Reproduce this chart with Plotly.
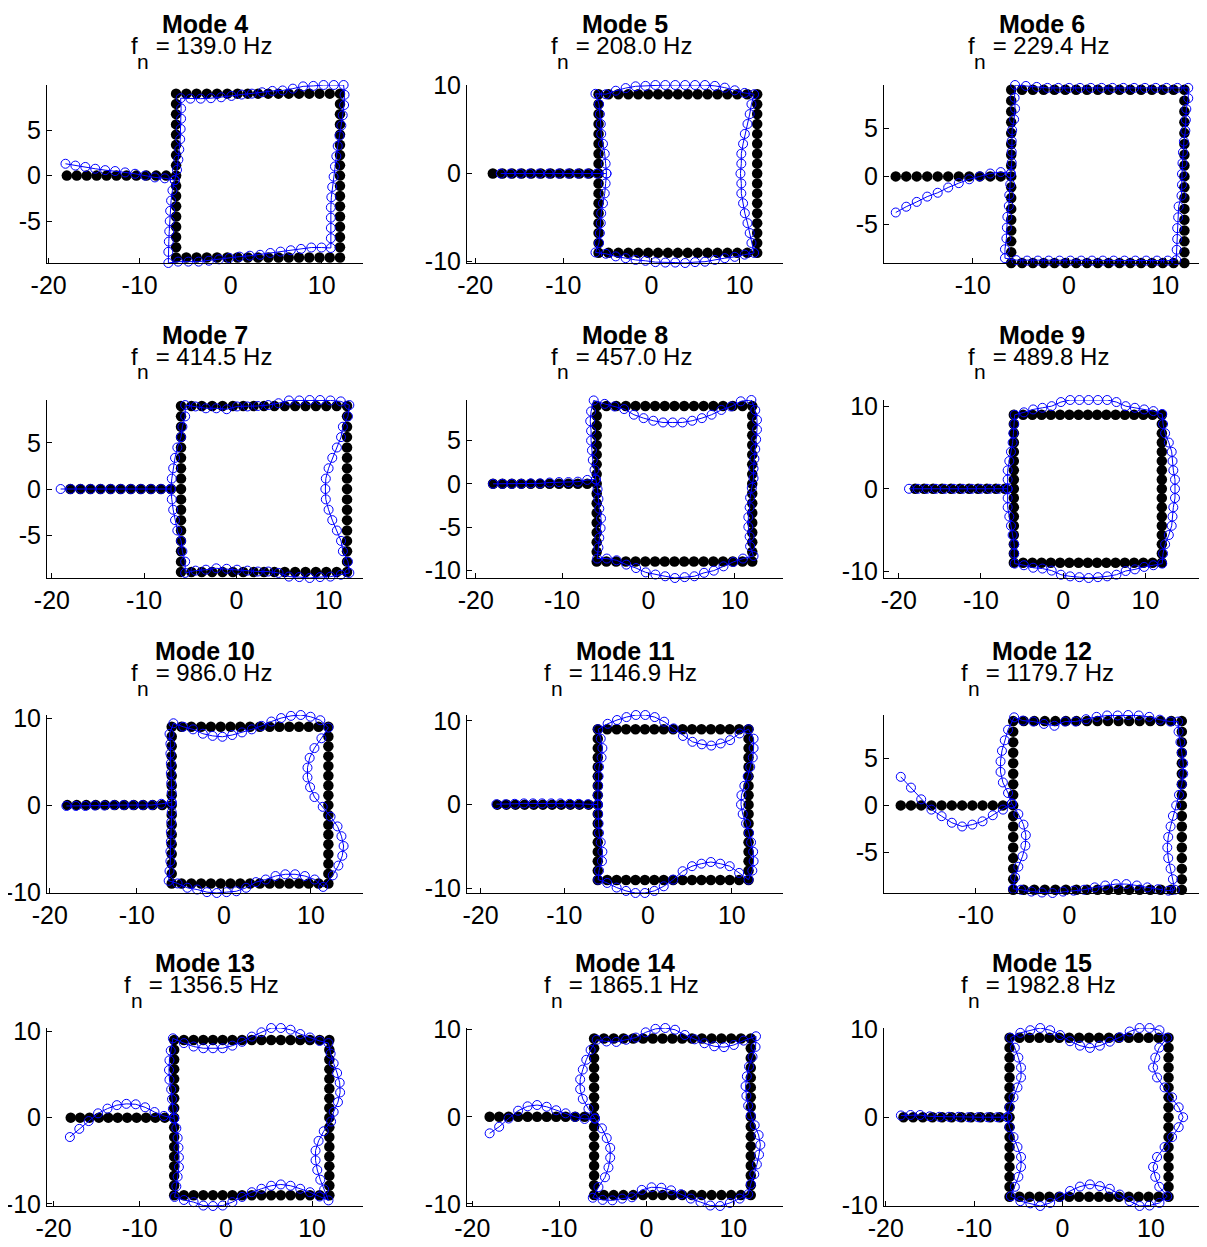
import plotly.graph_objects as go

# ---------------- data ----------------
mode_numbers = [4, 5, 6, 7, 8, 9, 10, 11, 12, 13, 14, 15]
freqs_hz = [139.0, 208.0, 229.4, 414.5, 457.0, 489.8, 986.0, 1146.9, 1179.7, 1356.5, 1865.1, 1982.8]

# undeformed node coordinates
beam_x = [-18.0, -16.91, -15.82, -14.73, -13.64, -12.55, -11.45, -10.36, -9.27, -8.18, -7.09]
side_y = [-9.0, -7.875, -6.75, -5.625, -4.5, -3.375, -2.25, -1.125, 0.0,
          1.125, 2.25, 3.375, 4.5, 5.625, 6.75, 7.875, 9.0]
span_x = [-6.0, -4.875, -3.75, -2.625, -1.5, -0.375, 0.75, 1.875, 3.0,
          4.125, 5.25, 6.375, 7.5, 8.625, 9.75, 10.875, 12.0]

# tick labels
x_ticks = [-20, -10, 0, 10]
x_ticklabels = ["-20", "-10", "0", "10"]
y_ticks_fine = [-10, -5, 0, 5, 10]
y_ticklabels_fine = ["-10", "-5", "0", "5", "10"]
y_ticks_coarse = [-10, 0, 10]
y_ticklabels_coarse = ["-10", "0", "10"]
y_tick_step = [5, 10, 5, 5, 5, 10, 10, 10, 5, 10, 10, 10]

# mode shapes (displacements)
# beam: transverse (y) at beam nodes; left/right: x-displacement for y=-9..9;
# top/bottom: y-displacement for x=-6..12; axial: [beam dx, left dy, top dx, right dy, bottom dx]
m4_beam = [1.3, 1.1, 0.95, 0.75, 0.6, 0.5, 0.35, 0.2, 0.0, -0.2, -0.3]
m4_left = [-0.85, -0.85, -0.8, -0.75, -0.7, -0.65, -0.55, -0.4, -0.15, 0.1, 0.25, 0.35, 0.45, 0.5, 0.55, 0.55, 0.5]
m4_top = [-0.5, -0.55, -0.55, -0.5, -0.4, -0.25, -0.1, 0.0, 0.15, 0.3, 0.35, 0.55, 0.8, 0.85, 0.95, 0.95, 0.95]
m4_right = [-1.0, -1.0, -1.0, -1.0, -1.0, -0.95, -0.85, -0.7, -0.55, -0.4, -0.25, -0.05, 0.15, 0.3, 0.45, 0.5, 0.4]
m4_bottom = [-0.6, -0.45, -0.45, -0.45, -0.35, -0.2, -0.05, 0.1, 0.2, 0.3, 0.5, 0.65, 0.8, 0.95, 1.1, 1.1, 1.05]
m4_axial = [-0.15, -0.5, 0.45, 1.0, -0.9]

m5_beam = [0.0, 0.0, 0.0, 0.0, 0.0, 0.0, 0.0, 0.0, 0.0, 0.0, 0.0]
m5_left = [-0.35, 0.05, 0.15, 0.25, 0.3, 0.5, 0.7, 0.8, 0.9, 0.8, 0.7, 0.5, 0.3, 0.25, 0.15, 0.05, -0.35]
m5_top = [0.05, 0.0, 0.4, 0.7, 0.9, 0.95, 1.05, 1.05, 1.05, 1.05, 1.05, 1.05, 0.95, 0.75, 0.45, 0.15, 0.0]
m5_right = [-0.35, -0.65, -0.85, -1.1, -1.4, -1.6, -1.8, -1.8, -1.9, -1.8, -1.8, -1.6, -1.4, -1.1, -0.85, -0.65, -0.35]
m5_bottom = [0.05, -0.1, -0.4, -0.6, -0.8, -0.9, -1.05, -1.1, -1.1, -1.15, -1.05, -1.0, -0.8, -0.6, -0.45, -0.2, 0.0]
m5_axial = [0.9, 0.0, -0.3, 0.0, -0.3]

m6_beam = [-3.75, -3.15, -2.65, -2.1, -1.7, -1.15, -0.7, -0.3, 0.0, 0.3, 0.45]
m6_left = [-0.65, -0.65, -0.5, -0.45, -0.4, -0.25, -0.2, -0.1, -0.05, 0.05, 0.05, 0.05, 0.1, 0.3, 0.4, 0.35, 0.4]
m6_top = [0.5, 0.4, 0.3, 0.2, 0.2, 0.2, 0.2, 0.2, 0.2, 0.2, 0.2, 0.2, 0.2, 0.2, 0.2, 0.2, 0.2]
m6_right = [-0.85, -0.8, -0.75, -0.75, -0.65, -0.6, -0.3, -0.25, -0.25, -0.2, -0.15, -0.05, 0.1, 0.15, 0.2, 0.4, 0.4]
m6_bottom = [0.5, 0.3, 0.25, 0.25, 0.25, 0.25, 0.25, 0.25, 0.25, 0.25, 0.25, 0.25, 0.25, 0.25, 0.25, 0.25, 0.3]
m6_axial = [0.0, 0.3, 0.4, 0.25, -0.6]

m7_beam = [0.0, 0.0, 0.0, 0.0, 0.0, 0.0, 0.0, 0.0, 0.0, 0.0, 0.0]
m7_left = [0.45, 0.45, 0.15, 0.0, -0.4, -0.65, -0.85, -1.0, -1.1, -1.0, -0.85, -0.65, -0.4, 0.0, 0.15, 0.45, 0.45]
m7_top = [0.1, -0.05, -0.25, -0.25, -0.35, -0.05, -0.05, 0.0, 0.1, 0.3, 0.6, 0.6, 0.65, 0.65, 0.6, 0.5, 0.1]
m7_right = [0.25, 0.1, -0.45, -0.65, -1.1, -1.6, -2.0, -2.3, -2.35, -2.3, -2.0, -1.6, -1.1, -0.65, -0.45, 0.1, 0.25]
m7_bottom = [-0.1, 0.15, 0.25, 0.4, 0.35, 0.25, 0.15, 0.05, 0.05, -0.1, -0.5, -0.55, -0.65, -0.55, -0.5, -0.3, -0.1]
m7_axial = [-1.05, 0.0, 0.45, 0.0, 0.45]

m8_beam = [0.0, 0.0, 0.0, 0.0, 0.05, 0.05, 0.15, 0.2, 0.2, 0.25, 0.45]
m8_left = [0.05, 0.2, 0.3, 0.45, 0.5, 0.3, 0.2, 0.1, -0.1, -0.25, -0.45, -0.55, -0.65, -0.65, -0.75, -0.65, -0.35]
m8_top = [0.65, 0.25, -0.05, -0.35, -1.0, -1.4, -1.7, -1.9, -1.9, -1.9, -1.7, -1.4, -1.0, -0.45, -0.05, 0.55, 0.7]
m8_right = [0.15, -0.25, -0.3, -0.45, -0.45, -0.3, -0.25, -0.05, 0.15, 0.15, 0.25, 0.35, 0.45, 0.55, 0.55, 0.35, -0.1]
m8_bottom = [0.35, 0.35, 0.15, -0.35, -0.75, -1.25, -1.5, -1.7, -1.9, -1.8, -1.7, -1.3, -1.05, -0.55, -0.05, 0.35, 0.65]
m8_axial = [0.0, 0.5, -0.2, 0.65, 0.05]

m9_beam = [0.0, 0.0, 0.0, 0.0, 0.0, 0.0, 0.0, 0.0, 0.0, 0.0, 0.0]
m9_left = [0.1, 0.05, 0.05, -0.15, -0.35, -0.55, -0.75, -0.75, -0.75, -0.75, -0.75, -0.55, -0.35, -0.15, -0.05, 0.05, 0.1]
m9_top = [0.0, 0.3, 0.65, 0.85, 1.05, 1.55, 1.8, 1.8, 1.8, 1.8, 1.8, 1.55, 1.05, 0.85, 0.65, 0.45, 0.1]
m9_right = [0.05, 0.15, 0.4, 0.85, 1.2, 1.3, 1.4, 1.6, 1.6, 1.6, 1.4, 1.3, 1.2, 0.85, 0.4, 0.15, 0.05]
m9_bottom = [-0.1, -0.3, -0.6, -0.7, -0.95, -1.45, -1.65, -1.75, -1.85, -1.75, -1.65, -1.45, -1.0, -0.8, -0.5, -0.3, -0.1]
m9_axial = [-0.75, 0.0, 0.1, 0.0, 0.1]

m10_beam = [-0.1, -0.1, -0.1, -0.05, -0.05, 0.0, 0.0, 0.0, 0.0, 0.0, 0.15]
m10_left = [-0.35, -0.25, -0.15, -0.15, -0.1, -0.1, -0.05, 0.0, 0.0, 0.0, -0.05, -0.1, -0.1, -0.15, -0.15, -0.25, 0.2]
m10_top = [0.4, 0.0, -0.3, -0.8, -1.05, -1.15, -0.95, -0.65, -0.3, 0.1, 0.6, 1.0, 1.25, 1.35, 1.15, 0.75, -0.1]
m10_right = [-0.6, 0.5, 1.15, 1.6, 1.75, 1.5, 1.05, 0.25, -0.65, -1.6, -2.1, -2.4, -2.4, -2.15, -1.6, -0.8, 0.0]
m10_bottom = [0.3, 0.0, -0.5, -0.7, -1.0, -1.1, -1.0, -0.9, -0.5, 0.15, 0.45, 0.85, 1.05, 1.05, 0.85, 0.45, -0.4]
m10_axial = [-0.1, 0.3, 0.2, -0.2, -0.45]

m11_beam = [0.05, 0.05, 0.1, 0.15, 0.15, 0.15, 0.15, 0.15, 0.1, 0.1, 0.05]
m11_left = [0.05, 0.15, 0.5, 0.55, 0.35, 0.15, 0.1, 0.05, 0.0, 0.0, 0.05, 0.1, 0.15, 0.45, 0.55, 0.35, 0.05]
m11_top = [0.0, 0.65, 1.1, 1.45, 1.7, 1.7, 1.45, 0.9, 0.1, -0.8, -1.5, -1.8, -1.95, -1.7, -1.3, -0.5, 0.0]
m11_right = [0.0, 0.45, 0.6, 0.55, 0.3, 0.05, -0.3, -0.7, -0.9, -0.85, -0.5, -0.1, 0.2, 0.5, 0.6, 0.6, 0.0]
m11_bottom = [0.05, -0.35, -0.9, -1.3, -1.55, -1.55, -1.3, -0.75, 0.05, 1.05, 1.65, 1.95, 2.15, 1.95, 1.65, 0.85, 0.05]
m11_axial = [-0.1, 0.0, 0.05, 0.0, 0.0]

m12_beam = [3.05, 1.9, 0.65, -0.45, -1.15, -1.85, -2.25, -2.05, -1.7, -1.05, -0.45]
m12_left = [0.0, 0.2, 0.55, 1.0, 1.3, 1.35, 1.1, 0.55, -0.15, -0.55, -1.1, -1.35, -1.35, -1.2, -0.9, -0.55, 0.1]
m12_top = [0.4, 0.05, -0.05, -0.3, -0.5, -0.05, -0.05, 0.2, 0.45, 0.6, 0.6, 0.65, 0.6, 0.45, 0.15, -0.05, -0.05]
m12_right = [-0.75, -0.95, -1.2, -1.45, -1.55, -1.45, -1.2, -0.95, -0.6, -0.3, 0.0, 0.15, 0.15, 0.0, -0.15, -0.35, -0.4]
m12_bottom = [0.1, 0.0, -0.2, -0.3, -0.35, -0.2, -0.1, 0.0, 0.25, 0.45, 0.6, 0.6, 0.45, 0.25, 0.05, -0.1, 0.0]
m12_axial = [0.0, 0.2, -0.1, 0.0, -0.3]

m13_beam = [-2.25, -1.3, -0.4, 0.5, 1.05, 1.45, 1.6, 1.55, 1.2, 0.65, 0.2]
m13_left = [0.05, 0.25, 0.4, 0.55, 0.55, 0.5, 0.4, 0.25, 0.0, -0.15, -0.25, -0.35, -0.55, -0.6, -0.55, -0.4, -0.15]
m13_top = [0.2, -0.35, -0.75, -0.95, -0.95, -0.95, -0.65, -0.2, 0.4, 0.9, 1.4, 1.4, 1.2, 0.7, 0.3, -0.1, -0.35]
m13_right = [-0.1, -0.6, -1.05, -1.4, -1.6, -1.6, -1.25, -0.65, 0.2, 0.5, 1.0, 1.25, 1.2, 0.9, 0.5, 0.15, -0.1]
m13_bottom = [-0.2, -0.55, -0.8, -1.2, -1.25, -1.2, -0.8, -0.2, 0.35, 0.75, 1.1, 1.25, 1.1, 0.75, 0.35, -0.15, -0.6]
m13_axial = [-0.1, -0.1, 0.0, -0.45, 0.0]

m14_beam = [-1.9, -1.15, -0.2, 0.7, 1.2, 1.35, 1.15, 0.75, 0.4, 0.0, -0.25]
m14_left = [-0.15, 0.5, 1.25, 1.65, 1.85, 1.85, 1.45, 0.9, 0.1, -0.65, -1.3, -1.6, -1.6, -1.3, -0.9, -0.4, 0.3]
m14_top = [-0.15, -0.35, -0.4, -0.15, 0.1, 0.7, 1.1, 1.2, 1.0, 0.4, -0.1, -0.55, -0.9, -1.0, -0.75, -0.25, 0.25]
m14_right = [-0.3, 0.0, 0.4, 0.7, 0.95, 1.1, 0.9, 0.45, 0.0, -0.3, -0.5, -0.6, -0.45, -0.2, 0.2, 0.55, 0.6]
m14_bottom = [-0.3, -0.55, -0.6, -0.4, -0.25, 0.6, 0.9, 0.85, 0.55, 0.1, -0.4, -0.8, -1.2, -1.25, -0.9, -0.4, 0.1]
m14_axial = [0.0, -0.2, 0.3, 0.15, -0.15]

m15_beam = [0.2, 0.25, 0.25, 0.1, 0.05, 0.05, 0.05, 0.0, 0.0, 0.0, 0.0]
m15_left = [0.15, 0.6, 1.0, 1.3, 1.3, 0.9, 0.45, 0.0, -0.25, 0.0, 0.45, 0.9, 1.3, 1.3, 1.0, 0.6, 0.1]
m15_top = [0.0, 0.55, 0.85, 1.1, 0.85, 0.3, -0.4, -0.9, -1.15, -0.9, -0.45, 0.05, 0.7, 1.1, 1.1, 0.85, 0.0]
m15_right = [-0.15, -1.05, -1.5, -1.75, -1.3, -0.45, 0.4, 1.15, 1.65, 1.15, 0.4, -0.45, -1.3, -1.75, -1.5, -1.05, -0.15]
m15_bottom = [0.05, -0.5, -0.75, -1.05, -0.7, 0.0, 0.65, 1.15, 1.4, 1.2, 0.9, 0.25, -0.5, -1.05, -1.0, -0.7, 0.05]
m15_axial = [-0.3, 0.0, 0.1, 0.0, 0.1]

shapes = [
    (m4_beam, m4_left, m4_top, m4_right, m4_bottom, m4_axial),
    (m5_beam, m5_left, m5_top, m5_right, m5_bottom, m5_axial),
    (m6_beam, m6_left, m6_top, m6_right, m6_bottom, m6_axial),
    (m7_beam, m7_left, m7_top, m7_right, m7_bottom, m7_axial),
    (m8_beam, m8_left, m8_top, m8_right, m8_bottom, m8_axial),
    (m9_beam, m9_left, m9_top, m9_right, m9_bottom, m9_axial),
    (m10_beam, m10_left, m10_top, m10_right, m10_bottom, m10_axial),
    (m11_beam, m11_left, m11_top, m11_right, m11_bottom, m11_axial),
    (m12_beam, m12_left, m12_top, m12_right, m12_bottom, m12_axial),
    (m13_beam, m13_left, m13_top, m13_right, m13_bottom, m13_axial),
    (m14_beam, m14_left, m14_top, m14_right, m14_bottom, m14_axial),
    (m15_beam, m15_left, m15_top, m15_right, m15_bottom, m15_axial),
]

# ---------------- geometry helpers ----------------
XL, XR = span_x[0], span_x[-1]
YB, YT = side_y[0], side_y[-1]
Y0 = side_y[8]
N = len(side_y)


def undeformed():
    xs, ys = [], []
    for bx in beam_x:
        xs.append(bx); ys.append(Y0)
    for sy in side_y:
        xs.append(XL); ys.append(sy)
        xs.append(XR); ys.append(sy)
    for sx in span_x[1:-1]:
        xs.append(sx); ys.append(YT)
        xs.append(sx); ys.append(YB)
    return xs, ys


def deformed(beam, left, top, right, bottom, axial):
    bdx, ldy, tdx, rdy, botdx = axial
    tl = (XL + left[-1], YT + top[0])
    tr = (XR + right[-1], YT + top[-1])
    br = (XR + right[0], YB + bottom[-1])
    bl = (XL + left[0], YB + bottom[0])
    pts = []
    for i, bx in enumerate(beam_x):
        pts.append((bx + bdx, Y0 + beam[i]))
    for j in range(8, N - 1):
        pts.append((XL + left[j], side_y[j] + ldy))
    pts.append(tl)
    for k in range(1, N - 1):
        pts.append((span_x[k] + tdx, YT + top[k]))
    pts.append(tr)
    for j in range(N - 2, 0, -1):
        pts.append((XR + right[j], side_y[j] + rdy))
    pts.append(br)
    for k in range(N - 2, 0, -1):
        pts.append((span_x[k] + botdx, YB + bottom[k]))
    pts.append(bl)
    for j in range(1, 9):
        pts.append((XL + left[j], side_y[j] + ldy))
    return [p[0] for p in pts], [p[1] for p in pts]


# Arial / Liberation Sans advance widths (em) for title layout
ADV = {"0": 0.556, "1": 0.556, "2": 0.556, "3": 0.556, "4": 0.556, "5": 0.556,
       "6": 0.556, "7": 0.556, "8": 0.556, "9": 0.556, ".": 0.278, " ": 0.278,
       "=": 0.584, "H": 0.722, "z": 0.5, "f": 0.278, "n": 0.556}


def text_w(s, size):
    return sum(ADV.get(ch, 0.556) for ch in s) * size


# ---------------- layout geometry (pixels of the target picture) ----------------
PAGE_OFF = 8                      # the page body margin shifts the figure by 8 px
W, H = 1207 - PAGE_OFF, 1247 - PAGE_OFF
col_px = [(47, 363), (467, 783), (884, 1200)]
row_px = [(85, 263), (400, 578), (715, 893), (1028, 1206)]
title_cy = [24, 335, 651, 963]
FONT = "Liberation Sans, Arial, sans-serif"
TITLE_SIZE = 25
LINE2_SIZE = 24
SUB_SIZE = 21
TICK_SIZE = 25


def fx(px):
    return (px - PAGE_OFF) / W


def fy(py):
    return 1 - (py - PAGE_OFF) / H


fig = go.Figure()
ux, uy = undeformed()
layout = dict(
    width=W, height=H, margin=dict(l=0, r=0, t=0, b=0, pad=0, autoexpand=False),
    paper_bgcolor="white", plot_bgcolor="white", showlegend=False,
    font=dict(family=FONT, color="black"),
)
annotations = []


def px_ann(text, xpx, ypx, size, xanchor="center"):
    return dict(text=text, x=fx(xpx), y=fy(ypx), xref="paper", yref="paper",
                xanchor=xanchor, yanchor="middle", showarrow=False, borderpad=0,
                font=dict(family=FONT, size=size, color="black"))


for i, mode in enumerate(mode_numbers):
    r, c = divmod(i, 3)
    n = "" if i == 0 else str(i + 1)
    dx, dy = deformed(*shapes[i])

    fig.add_trace(go.Scatter(
        x=ux, y=uy, mode="markers", xaxis="x" + n, yaxis="y" + n,
        marker=dict(symbol="circle", size=10.5, color="black", line=dict(width=0)),
        cliponaxis=False, hoverinfo="skip"))
    fig.add_trace(go.Scatter(
        x=dx, y=dy, mode="lines+markers", xaxis="x" + n, yaxis="y" + n,
        line=dict(color="#0000FF", width=1),
        marker=dict(symbol="circle-open", size=9, color="#0000FF", line=dict(width=1, color="#0000FF")),
        cliponaxis=False, hoverinfo="skip"))

    allx = ux + dx
    ally = uy + dy
    x0p, x1p = col_px[c]
    y0p, y1p = row_px[r]
    if y_tick_step[i] == 5:
        yt, ytt = y_ticks_fine, y_ticklabels_fine
    else:
        yt, ytt = y_ticks_coarse, y_ticklabels_coarse

    common = dict(showline=True, linecolor="black", linewidth=1, ticks="inside",
                  ticklen=5, tickwidth=1, tickcolor="black", showgrid=False,
                  zeroline=False, mirror=False, automargin=False,
                  tickfont=dict(family=FONT, size=TICK_SIZE, color="black"))
    layout["xaxis" + n] = dict(
        domain=[fx(x0p), fx(x1p)], anchor="y" + n,
        range=[min(allx), max(allx)], scaleanchor="y" + n, scaleratio=1,
        constrain="range", tickmode="array", tickvals=x_ticks, ticktext=x_ticklabels,
        **common)
    layout["yaxis" + n] = dict(
        domain=[fy(y1p), fy(y0p)], anchor="x" + n,
        range=[min(ally), max(ally)], tickmode="array", tickvals=yt, ticktext=ytt,
        **common)

    cx = (x0p + x1p) / 2
    annotations.append(px_ann("<b>Mode %d</b>" % mode, cx, title_cy[r], TITLE_SIZE))
    rest = " = %.1f Hz" % freqs_hz[i]
    wf = text_w("f", LINE2_SIZE)
    wn = text_w("n", SUB_SIZE)
    wr = text_w(rest, LINE2_SIZE)
    start = cx - (wf + wn + wr) / 2 - 4.5
    line_y = title_cy[r] + 21.5
    annotations.append(px_ann("f", start, line_y, LINE2_SIZE, "left"))
    annotations.append(px_ann("n", start + wf, title_cy[r] + 37, SUB_SIZE, "left"))
    annotations.append(px_ann(rest.replace(" ", "\u00a0"), start + wf + wn, line_y, LINE2_SIZE, "left"))

layout["annotations"] = annotations
fig.update_layout(**layout)
fig.write_html("out.html")
